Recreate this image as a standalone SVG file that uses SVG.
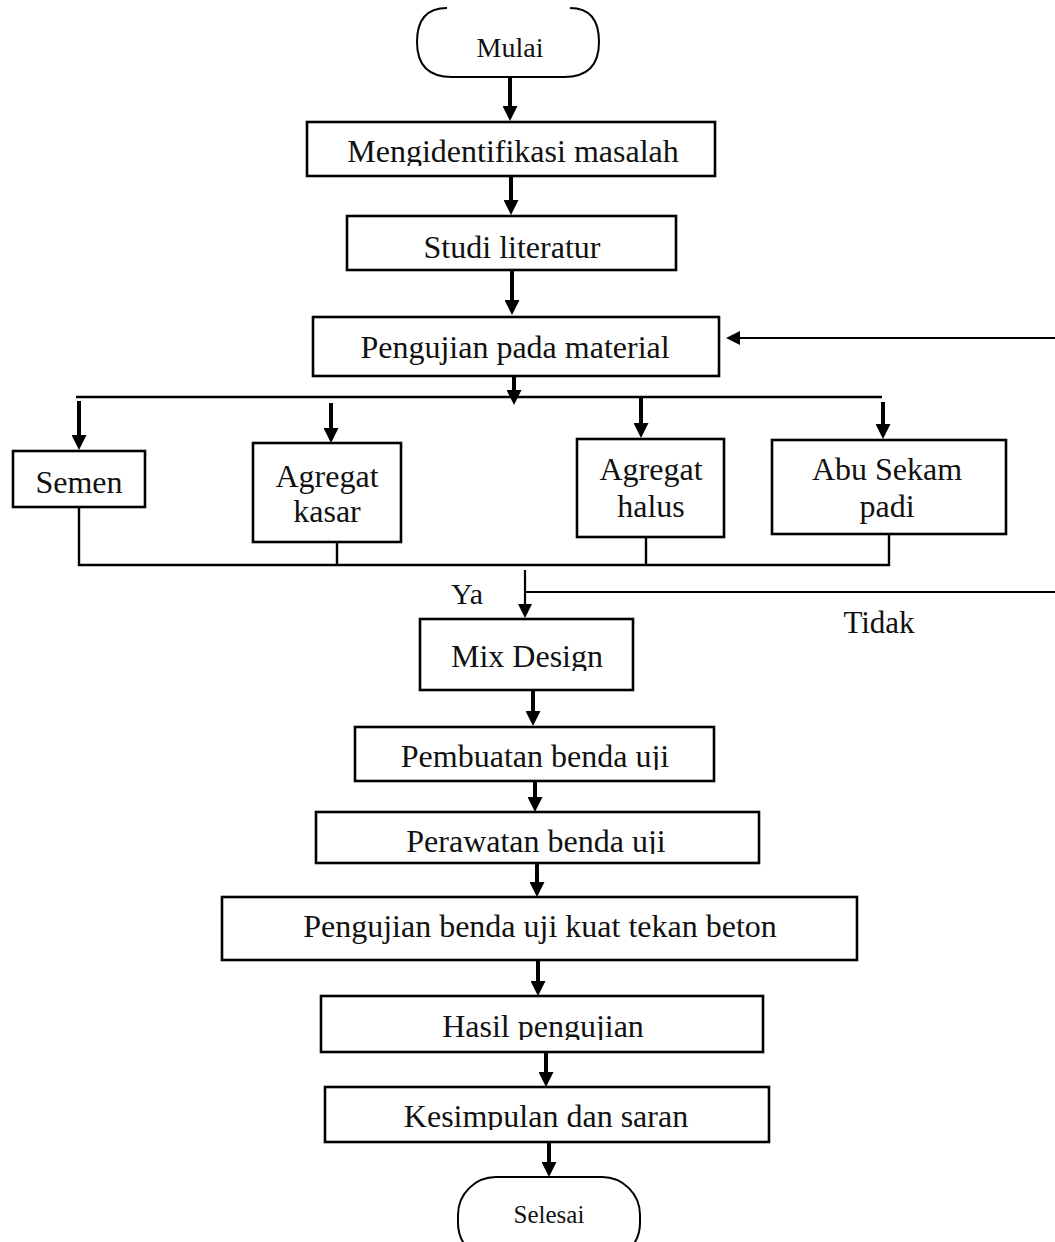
<svg xmlns="http://www.w3.org/2000/svg" width="1055" height="1242" viewBox="0 0 1055 1242">
<style>
.box{fill:#fff;stroke:#000;stroke-width:2.6}
.t{font-family:"Liberation Serif","Times New Roman",serif;font-size:32px;fill:#111;text-anchor:middle}
.ln{fill:none;stroke:#000;stroke-width:2.4}
.thick{fill:none;stroke:#000;stroke-width:4}
.thin{fill:none;stroke:#000;stroke-width:2.2}
</style>
<defs>
<marker id="ah" viewBox="0 0 10 10" refX="0" refY="5" markerWidth="15" markerHeight="15" markerUnits="userSpaceOnUse" orient="auto"><path d="M0,0 L10,5 L0,10 z" fill="#000"/></marker>
<marker id="ahs" viewBox="0 0 10 10" refX="0" refY="5" markerWidth="14" markerHeight="14" markerUnits="userSpaceOnUse" orient="auto"><path d="M0,0 L10,5 L0,10 z" fill="#000"/></marker>
<clipPath id="c1"><rect x="300" y="110" width="430" height="56"/></clipPath>
<clipPath id="c2"><rect x="400" y="615" width="250" height="56"/></clipPath>
<clipPath id="c3"><rect x="340" y="720" width="390" height="50"/></clipPath>
<clipPath id="c4"><rect x="300" y="805" width="470" height="49"/></clipPath>
<clipPath id="c5"><rect x="310" y="990" width="460" height="50"/></clipPath>
<clipPath id="c6"><rect x="310" y="1080" width="470" height="50"/></clipPath>
</defs>
<rect width="1055" height="1242" fill="#fff"/>

<g id="connectors">
<line class="thick" x1="510" y1="77" x2="510" y2="106" marker-end="url(#ah)"/>
<line class="thick" x1="511" y1="176" x2="511" y2="200" marker-end="url(#ah)"/>
<line class="thick" x1="512" y1="270" x2="512" y2="300" marker-end="url(#ah)"/>
<line class="thick" x1="514" y1="376" x2="514" y2="390" marker-end="url(#ah)"/>
<path class="ln" d="M76,397 H882"/>
<line class="thick" x1="79" y1="401" x2="79" y2="435" marker-end="url(#ah)"/>
<line class="thick" x1="331" y1="403" x2="331" y2="428" marker-end="url(#ah)"/>
<line class="thick" x1="641" y1="397" x2="641" y2="423" marker-end="url(#ah)"/>
<line class="thick" x1="883" y1="402" x2="883" y2="424" marker-end="url(#ah)"/>
<path class="ln" d="M79,507 V565 H889 V534 M337,542 V565 M646,537 V565"/>
<line class="thin" x1="525" y1="570" x2="525" y2="604" marker-end="url(#ahs)"/>
<path class="thin" d="M525,592 H1055"/>
<line class="thin" x1="1055" y1="338" x2="740" y2="338" marker-end="url(#ahs)"/>
<line class="thick" x1="533" y1="690" x2="533" y2="711" marker-end="url(#ah)"/>
<line class="thick" x1="535" y1="781" x2="535" y2="797" marker-end="url(#ah)"/>
<line class="thick" x1="537" y1="863" x2="537" y2="882" marker-end="url(#ah)"/>
<line class="thick" x1="538" y1="960" x2="538" y2="981" marker-end="url(#ah)"/>
<line class="thick" x1="546" y1="1052" x2="546" y2="1072" marker-end="url(#ah)"/>
<line class="thick" x1="549" y1="1142" x2="549" y2="1162" marker-end="url(#ah)"/>
<text class="t" x="467" y="604" style="font-size:30px">Ya</text>
<text class="t" x="879" y="633" style="font-size:31px">Tidak</text>
</g>

<g id="mulai">
<path d="M447,8 Q417,8 417,42 Q417,77 452,77 L564,77 Q599,77 599,42 Q599,8 570,8" fill="#fff" stroke="#000" stroke-width="2"/>
<text class="t" x="510" y="57" style="font-size:28px">Mulai</text>
</g>

<g id="identifikasi">
<rect class="box" x="307" y="122" width="408" height="54"/>
<text class="t" x="513" y="162" clip-path="url(#c1)">Mengidentifikasi masalah</text>
</g>

<g id="studi">
<rect class="box" x="347" y="216" width="329" height="54"/>
<text class="t" x="512" y="258">Studi literatur</text>
</g>

<g id="pengujian-material">
<rect class="box" x="313" y="317" width="406" height="59"/>
<text class="t" x="515" y="358">Pengujian pada material</text>
</g>

<g id="semen">
<rect class="box" x="13" y="451" width="132" height="56"/>
<text class="t" x="79" y="493">Semen</text>
</g>

<g id="agregat-kasar">
<rect class="box" x="253" y="443" width="148" height="99"/>
<text class="t" x="327" y="487">Agregat</text>
<text class="t" x="327" y="522">kasar</text>
</g>

<g id="agregat-halus">
<rect class="box" x="577" y="439" width="147" height="98"/>
<text class="t" x="651" y="480">Agregat</text>
<text class="t" x="651" y="517">halus</text>
</g>

<g id="abu-sekam">
<rect class="box" x="772" y="440" width="234" height="94"/>
<text class="t" x="887" y="480">Abu Sekam</text>
<text class="t" x="887" y="517">padi</text>
</g>

<g id="mix-design">
<rect class="box" x="420" y="619" width="213" height="71"/>
<text class="t" x="527" y="667" clip-path="url(#c2)">Mix Design</text>
</g>

<g id="pembuatan">
<rect class="box" x="355" y="727" width="359" height="54"/>
<text class="t" x="535" y="767" clip-path="url(#c3)">Pembuatan benda uji</text>
</g>

<g id="perawatan">
<rect class="box" x="316" y="812" width="443" height="51"/>
<text class="t" x="536" y="852" clip-path="url(#c4)">Perawatan benda uji</text>
</g>

<g id="pengujian-benda">
<rect class="box" x="222" y="897" width="635" height="63"/>
<text class="t" x="540" y="937">Pengujian benda uji kuat tekan beton</text>
</g>

<g id="hasil">
<rect class="box" x="321" y="996" width="442" height="56"/>
<text class="t" x="543" y="1037" clip-path="url(#c5)">Hasil pengujian</text>
</g>

<g id="kesimpulan">
<rect class="box" x="325" y="1087" width="444" height="55"/>
<text class="t" x="546" y="1127" clip-path="url(#c6)">Kesimpulan dan saran</text>
</g>

<g id="selesai">
<rect x="458" y="1177" width="182" height="84" rx="38" ry="38" fill="#fff" stroke="#000" stroke-width="2"/>
<text class="t" x="549" y="1223" style="font-size:25px">Selesai</text>
</g>
</svg>
